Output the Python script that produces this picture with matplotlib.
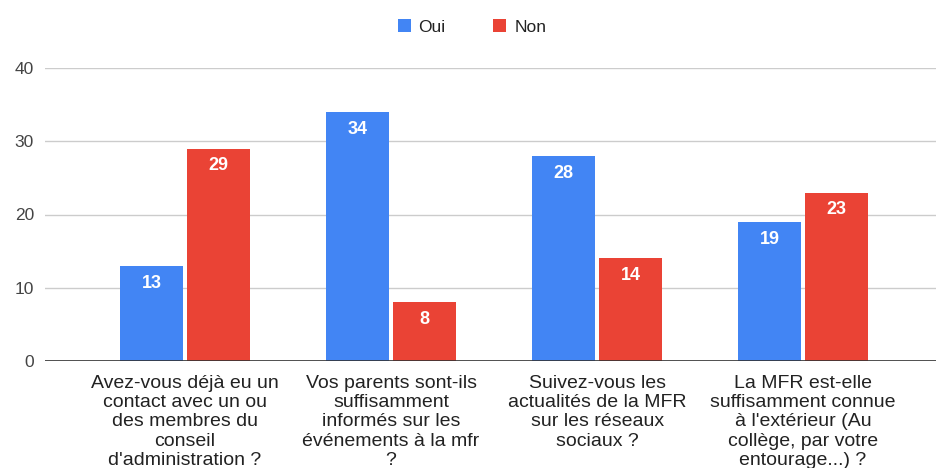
import matplotlib.pyplot as plt
import numpy as np

plt.rcParams['font.family'] = ['Liberation Sans', 'DejaVu Sans']

# questions et réponses
questions = [
    "Avez-vous déjà eu un\ncontact avec un ou\ndes membres du\nconseil\nd'administration ?",
    "Vos parents sont-ils\nsuffisamment\ninformés sur les\névénements à la mfr\n?",
    "Suivez-vous les\nactualités de la MFR\nsur les réseaux\nsociaux ?",
    "La MFR est-elle\nsuffisamment connue\nà l'extérieur (Au\ncollège, par votre\nentourage...) ?",
]
oui = [13, 34, 28, 19]
non = [29, 8, 14, 23]
yticks = [0, 10, 20, 30, 40]

bleu = '#4285F4'
rouge = '#EA4335'

fig = plt.figure(figsize=(9.38, 4.68), dpi=100)
ax = fig.add_axes([45/938, 107/468, 891/938, 293/468])

x = np.arange(len(questions))
w = 0.306
off = 0.163
b1 = ax.bar(x - off, oui, w, color=bleu, label='Oui', zorder=3)
b2 = ax.bar(x + off, non, w, color=rouge, label='Non', zorder=3)

# valeurs en blanc en haut des barres
for bars, vals in ((b1, oui), (b2, non)):
    for b, v in zip(bars, vals):
        ax.text(b.get_x() + b.get_width()/2, v - 1.2, str(v), ha='center', va='top',
                color='white', fontsize=13, fontweight='bold', zorder=4)

ax.set_xlim(-0.68, 3.645)
ax.set_ylim(0, 40)
ax.set_yticks(yticks)
ax.set_yticklabels([str(t) for t in yticks], fontsize=12.5, color='#444444')
ax.yaxis.grid(True, color='#cccccc', linewidth=1, zorder=0)
ax.axhline(0, color='#333333', linewidth=1.2, zorder=5)
ax.tick_params(axis='y', length=0, pad=8)
ax.tick_params(axis='x', length=0, pad=10)
ax.set_xticks(x)
ax.set_xticklabels(questions, fontsize=14, color='#222222', linespacing=1.17)
for s in ax.spines.values():
    s.set_visible(False)

fig.legend(handles=[b1, b2], loc='center', bbox_to_anchor=(472/938, 1 - 27/468),
           ncol=2, frameon=False, fontsize=12.5, handlelength=0.75, handleheight=0.75,
           handletextpad=0.45, columnspacing=2.75, labelcolor='#222222')

fig.savefig('out.png', dpi=100)
